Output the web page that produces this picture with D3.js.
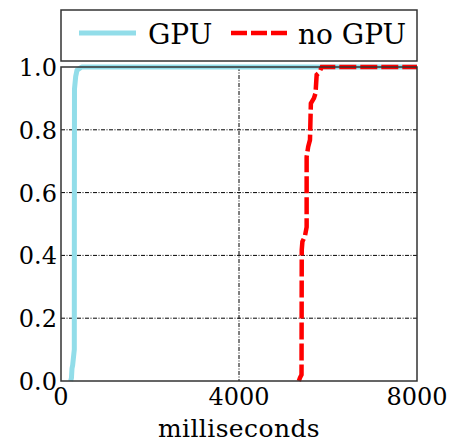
<!DOCTYPE html>
<html>
<head>
<meta charset="utf-8">
<script src="https://cdn.jsdelivr.net/npm/d3@7"></script>
<style>
  body { margin: 0; background: #fff; }
  svg { display: block; }
</style>
</head>
<body>
<div id="chart"></div>
<script>
// CDF data: [milliseconds, fraction]
var gpu = [[218, 0], [235, 0.01], [247, 0.04], [262, 0.05], [299, 0.1], [300, 0.5],
           [303, 0.93], [330, 0.97], [360, 0.99], [465, 1.0], [8000, 1.0]];
var noGpu = [[5345, 0], [5370, 0.01], [5405, 0.02], [5410, 0.417], [5425, 0.444],
             [5480, 0.46], [5520, 0.49], [5520, 0.714], [5555, 0.746], [5595, 0.768],
             [5615, 0.884], [5685, 0.901], [5720, 0.917], [5745, 0.975], [5800, 0.982],
             [5860, 1.0], [8000, 1.0]];
var xTicks = [0, 4000, 8000];
var yTicks = [0.0, 0.2, 0.4, 0.6, 0.8, 1.0];
var seriesNames = ["GPU", "no GPU"];
var seriesColors = ["#92dde9", "#ff0000"];

var svg = d3.select("#chart").append("svg")
    .attr("width", 449)
    .attr("height", 442);

var plotL = 61, plotR = 417, plotT = 67, plotB = 381;
var font = "'DejaVu Serif', serif";

var xScale = d3.scaleLinear().domain([0, 8000]).range([plotL, plotR]);
var yScale = d3.scaleLinear().domain([0, 1]).range([plotB, plotT]);

// grid (dash-dot)
svg.append("g").selectAll("line")
    .data(yTicks.filter(function(d) { return d > 0 && d < 1; }))
    .enter().append("line")
    .attr("x1", plotL).attr("x2", plotR)
    .attr("y1", function(d) { return yScale(d); })
    .attr("y2", function(d) { return yScale(d); })
    .style("stroke", "#000")
    .style("stroke-width", 1)
    .style("stroke-dasharray", "4,1.5,1,1.5");

svg.append("g").selectAll("line")
    .data(xTicks.filter(function(d) { return d > 0 && d < 8000; }))
    .enter().append("line")
    .attr("y1", plotT).attr("y2", plotB)
    .attr("x1", function(d) { return xScale(d); })
    .attr("x2", function(d) { return xScale(d); })
    .style("stroke", "#000")
    .style("stroke-width", 1)
    .style("stroke-dasharray", "4,1.5,1,1.5");

var line = d3.line()
    .x(function(d) { return xScale(d[0]); })
    .y(function(d) { return yScale(d[1]); });

svg.append("path")
    .datum(gpu)
    .attr("d", line)
    .style("fill", "none")
    .style("stroke", seriesColors[0])
    .style("stroke-width", 5)
    .style("stroke-linejoin", "round");

svg.append("path")
    .datum(noGpu)
    .attr("d", line)
    .style("fill", "none")
    .style("stroke", seriesColors[1])
    .style("stroke-width", 4.5)
    .style("stroke-dasharray", "17,4");

// frame
svg.append("rect")
    .attr("x", plotL).attr("y", plotT)
    .attr("width", plotR - plotL).attr("height", plotB - plotT)
    .style("fill", "none")
    .style("stroke", "#333")
    .style("stroke-width", 1.5);

// y tick labels
svg.append("g").selectAll("text")
    .data(yTicks)
    .enter().append("text")
    .attr("x", plotL - 4)
    .attr("y", function(d) { return yScale(d) + 9; })
    .attr("text-anchor", "end")
    .style("font-family", font)
    .style("font-size", "24px")
    .text(function(d) { return d.toFixed(1); });

// x tick labels
svg.append("g").selectAll("text")
    .data(xTicks)
    .enter().append("text")
    .attr("x", function(d) { return xScale(d); })
    .attr("y", 405)
    .attr("text-anchor", "middle")
    .style("font-family", font)
    .style("font-size", "24px")
    .text(function(d) { return d; });

svg.append("text")
    .attr("x", (plotL + plotR) / 2)
    .attr("y", 437)
    .attr("text-anchor", "middle")
    .style("font-family", font)
    .style("font-size", "25px")
    .style("letter-spacing", "0.4px")
    .text("milliseconds");

// legend
svg.append("rect")
    .attr("x", plotL).attr("y", 10)
    .attr("width", plotR - plotL).attr("height", 51)
    .style("fill", "#fff")
    .style("stroke", "#333")
    .style("stroke-width", 1.5);

var legX = [79, 231], legTextX = [148, 298];
seriesNames.forEach(function(name, i) {
    svg.append("line")
        .attr("x1", legX[i]).attr("x2", legX[i] + 57)
        .attr("y1", 33).attr("y2", 33)
        .style("stroke", seriesColors[i])
        .style("stroke-width", i === 0 ? 5 : 4.5)
        .style("stroke-dasharray", i === 0 ? null : "16,4");
    svg.append("text")
        .attr("x", legTextX[i])
        .attr("y", 44)
        .style("font-family", font)
        .style("font-size", "28px")
        .text(name);
});
</script>
</body>
</html>
